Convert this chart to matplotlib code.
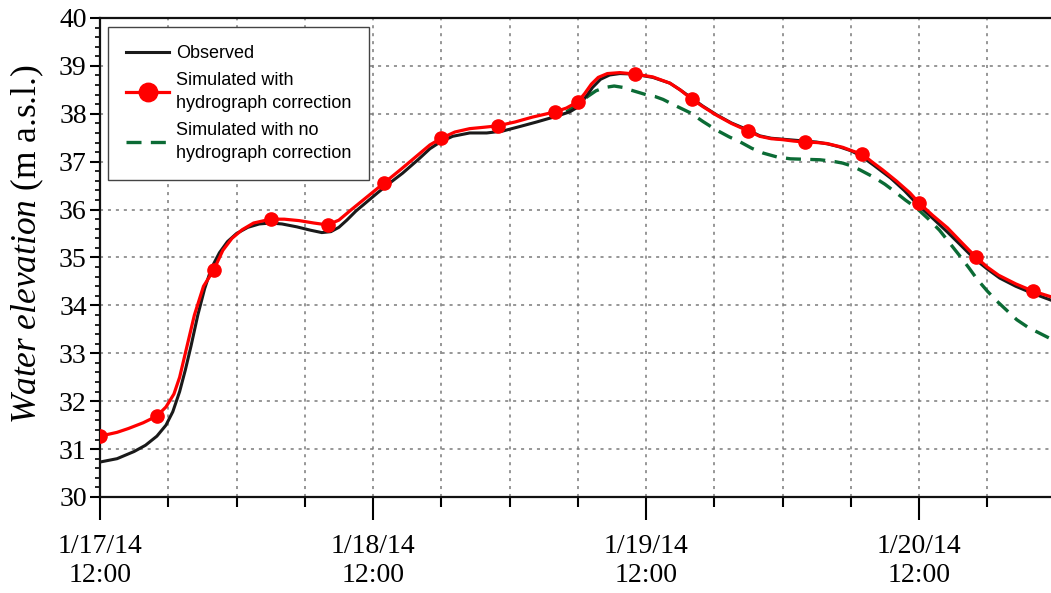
import matplotlib
matplotlib.use('Agg')
import matplotlib.pyplot as plt
from matplotlib.ticker import MultipleLocator, FixedLocator

# hours after 1/17/14 12:00
obs_hours = [0, 1.5, 3, 4, 5, 5.8, 6.4, 7, 7.5, 8, 8.6, 9.2, 9.8, 10.5, 11.2, 12, 13, 14,
             15, 16, 17.3, 18.5, 19.5, 20.3, 21, 21.7, 22.5, 23.5, 24.4, 25.5, 26.6, 28,
             29, 29.9, 31, 32.5, 34, 35.4, 37, 38.4, 40, 41.3, 42, 42.7, 43.3, 44, 44.8,
             45.7, 46.9, 48.6, 50.1, 51, 52, 53, 54.2, 55.5, 57, 58, 59, 60, 61, 62, 63,
             64, 65, 66, 66.9, 68, 69.5, 70.7, 71.9, 73.2, 74.5, 75.7, 76.8, 78, 79.1,
             80.5, 81.9, 83.6]
obs_elev = [30.73, 30.8, 30.95, 31.08, 31.27, 31.5, 31.78, 32.2, 32.65, 33.15, 33.8,
            34.35, 34.78, 35.1, 35.33, 35.5, 35.63, 35.7, 35.72, 35.7, 35.64, 35.57,
            35.52, 35.54, 35.63, 35.78, 35.97, 36.17, 36.35, 36.56, 36.76, 37.05, 37.27,
            37.41, 37.53, 37.6, 37.6, 37.64, 37.74, 37.83, 37.94, 38.04, 38.14, 38.35,
            38.55, 38.72, 38.81, 38.84, 38.83, 38.76, 38.64, 38.5, 38.33, 38.16, 37.98,
            37.81, 37.66, 37.54, 37.49, 37.47, 37.45, 37.43, 37.41, 37.37, 37.31, 37.23,
            37.12, 36.93, 36.66, 36.4, 36.1, 35.82, 35.53, 35.25, 34.99, 34.76, 34.57,
            34.4, 34.26, 34.11]

corr_hours = [0, 1.5, 2.5, 3.8, 5, 5.8, 6.5, 7.0, 7.6, 8.3, 9.1, 10, 10.8, 11.6, 12.5,
              13.5, 15, 16.2, 17.5, 18.8, 20, 21, 22, 23.5, 25, 26.5, 28, 29, 30, 31.2,
              32.5, 33.8, 35, 36.5, 38, 40, 41, 42, 42.6, 43.2, 43.8, 44.6, 45.7, 47,
              48.6, 50.1, 51, 52, 53, 54.2, 55.5, 57, 58, 59, 60, 61, 62, 63, 63.9, 65.3,
              66.2, 67, 67.9, 68.8, 70, 71.2, 72, 73.2, 74.5, 75.8, 77, 78, 79, 80.5, 82,
              83.6]
corr_elev = [31.27, 31.35, 31.43, 31.55, 31.69, 31.88, 32.15, 32.5, 33.1, 33.8, 34.4,
             34.74, 35.15, 35.4, 35.58, 35.72, 35.80, 35.8, 35.77, 35.72, 35.68, 35.78,
             35.98, 36.27, 36.56, 36.85, 37.15, 37.35, 37.49, 37.62, 37.69, 37.72, 37.75,
             37.83, 37.93, 38.04, 38.12, 38.25, 38.42, 38.62, 38.76, 38.84, 38.86, 38.83,
             38.77, 38.64, 38.5, 38.31, 38.15, 37.97, 37.8, 37.64, 37.53, 37.48, 37.46,
             37.43, 37.41, 37.4, 37.38, 37.3, 37.22, 37.16, 36.99, 36.83, 36.6, 36.35,
             36.14, 35.88, 35.62, 35.3, 35.01, 34.8, 34.63, 34.45, 34.30, 34.18]
marker_hours = [0, 5, 10, 15, 20, 25, 30, 35, 40, 42, 47, 52, 57, 62, 67, 72, 77, 82]

nocorr_hours = [41, 42, 42.8, 43.6, 44.4, 45.2, 46, 46.6, 47.3, 48, 48.8, 49.5, 50.5, 51.9,
                53, 54.2, 55.3, 56.3, 57.3, 58.3, 59.5, 60.7, 62, 63.3, 64.4, 65.3, 66.1,
                66.8, 68, 69, 69.9, 70.8, 71.8, 72.8, 73.8, 74.7, 75.6, 76.4, 77.1, 78,
                78.8, 79.7, 80.6, 81.6, 82.6, 83.6]
nocorr_elev = [38.04, 38.2, 38.35, 38.48, 38.55, 38.58, 38.55, 38.5, 38.45, 38.4, 38.36,
               38.3, 38.18, 38.02, 37.84, 37.66, 37.52, 37.41, 37.28, 37.18, 37.1, 37.06,
               37.05, 37.04, 37.01, 36.97, 36.91, 36.83, 36.68, 36.53, 36.37, 36.2, 36.03,
               35.81, 35.57, 35.3, 35.03, 34.78, 34.55, 34.3, 34.1, 33.9, 33.7, 33.54,
               33.42, 33.3]

day_ticks = [0, 24, 48, 72]
day_labels = ['1/17/14\n12:00', '1/18/14\n12:00', '1/19/14\n12:00', '1/20/14\n12:00']

plt.rcParams['mathtext.fontset'] = 'custom'
plt.rcParams['mathtext.rm'] = 'Liberation Serif'
plt.rcParams['mathtext.it'] = 'Liberation Serif:italic'

fig = plt.figure(figsize=(10.51, 5.93), dpi=100)
# right edge of the axes runs just past the figure edge
ax = fig.add_axes([100 / 1051, 96 / 593, 955.5 / 1051, 479 / 593])

grid_kw = dict(color='#7a7a7a', linewidth=1.1, linestyle=(0, (2, 3.2)))
ax.plot(nocorr_hours, nocorr_elev, color='#0b6b35', linewidth=2.4,
        linestyle=(0, (4.5, 2.8)), zorder=3, label='Simulated with no\nhydrograph correction')
ax.plot(obs_hours, obs_elev, color='#1a1a1a', linewidth=2.2, zorder=4, label='Observed')
idx = [i for i, h in enumerate(corr_hours) if h in marker_hours]
ax.plot(corr_hours, corr_elev, color='#ff0000', linewidth=2.3, marker='o',
        markersize=9.5, markevery=idx, zorder=5,
        label='Simulated with\nhydrograph correction')

ax.set_xlim(0, 84)
ax.set_ylim(30, 40)
ax.xaxis.set_major_locator(FixedLocator(day_ticks))
ax.xaxis.set_minor_locator(MultipleLocator(6))
ax.set_xticklabels(day_labels, family='Liberation Serif', fontsize=20, linespacing=1.2)
ax.yaxis.set_major_locator(MultipleLocator(1))
ax.yaxis.set_minor_locator(MultipleLocator(0.2))
for lab in ax.get_yticklabels():
    lab.set_family('Liberation Serif')
    lab.set_fontsize(20)

ax.tick_params(axis='x', which='major', length=16.5, width=1.5, pad=10)
ax.tick_params(axis='x', which='minor', length=7, width=1.5)
ax.tick_params(axis='y', which='major', length=7.5, width=1.5, pad=2)
ax.tick_params(axis='y', which='minor', length=3.8, width=1.2)
ax.grid(True, axis='x', which='both', **grid_kw)
ax.grid(True, axis='y', which='major', **grid_kw)
ax.set_axisbelow(True)
for sp in ax.spines.values():
    sp.set_linewidth(1.6)
    sp.set_color('#111111')

ax.set_ylabel(r'$\mathit{Water\ elevation}$ (m a.s.l.)', fontsize=25.5,
              family='Liberation Serif')
ax.yaxis.set_label_coords(-0.056, 0.528)

handles, labels = ax.get_legend_handles_labels()
order = [1, 2, 0]
leg = ax.legend([handles[i] for i in order], [labels[i] for i in order],
                loc='upper left', bbox_to_anchor=(0.0084, 0.981), borderaxespad=0,
                prop={'family': 'Liberation Sans', 'size': 13},
                fancybox=False, framealpha=1, edgecolor='#444444',
                handlelength=2.4, handletextpad=0.35, borderpad=1.0,
                labelspacing=0.55, markerscale=1.4)
leg.get_frame().set_linewidth(1.0)
for t in leg.get_texts():
    t.set_linespacing(1.45)

fig.savefig('out.png', dpi=100)
